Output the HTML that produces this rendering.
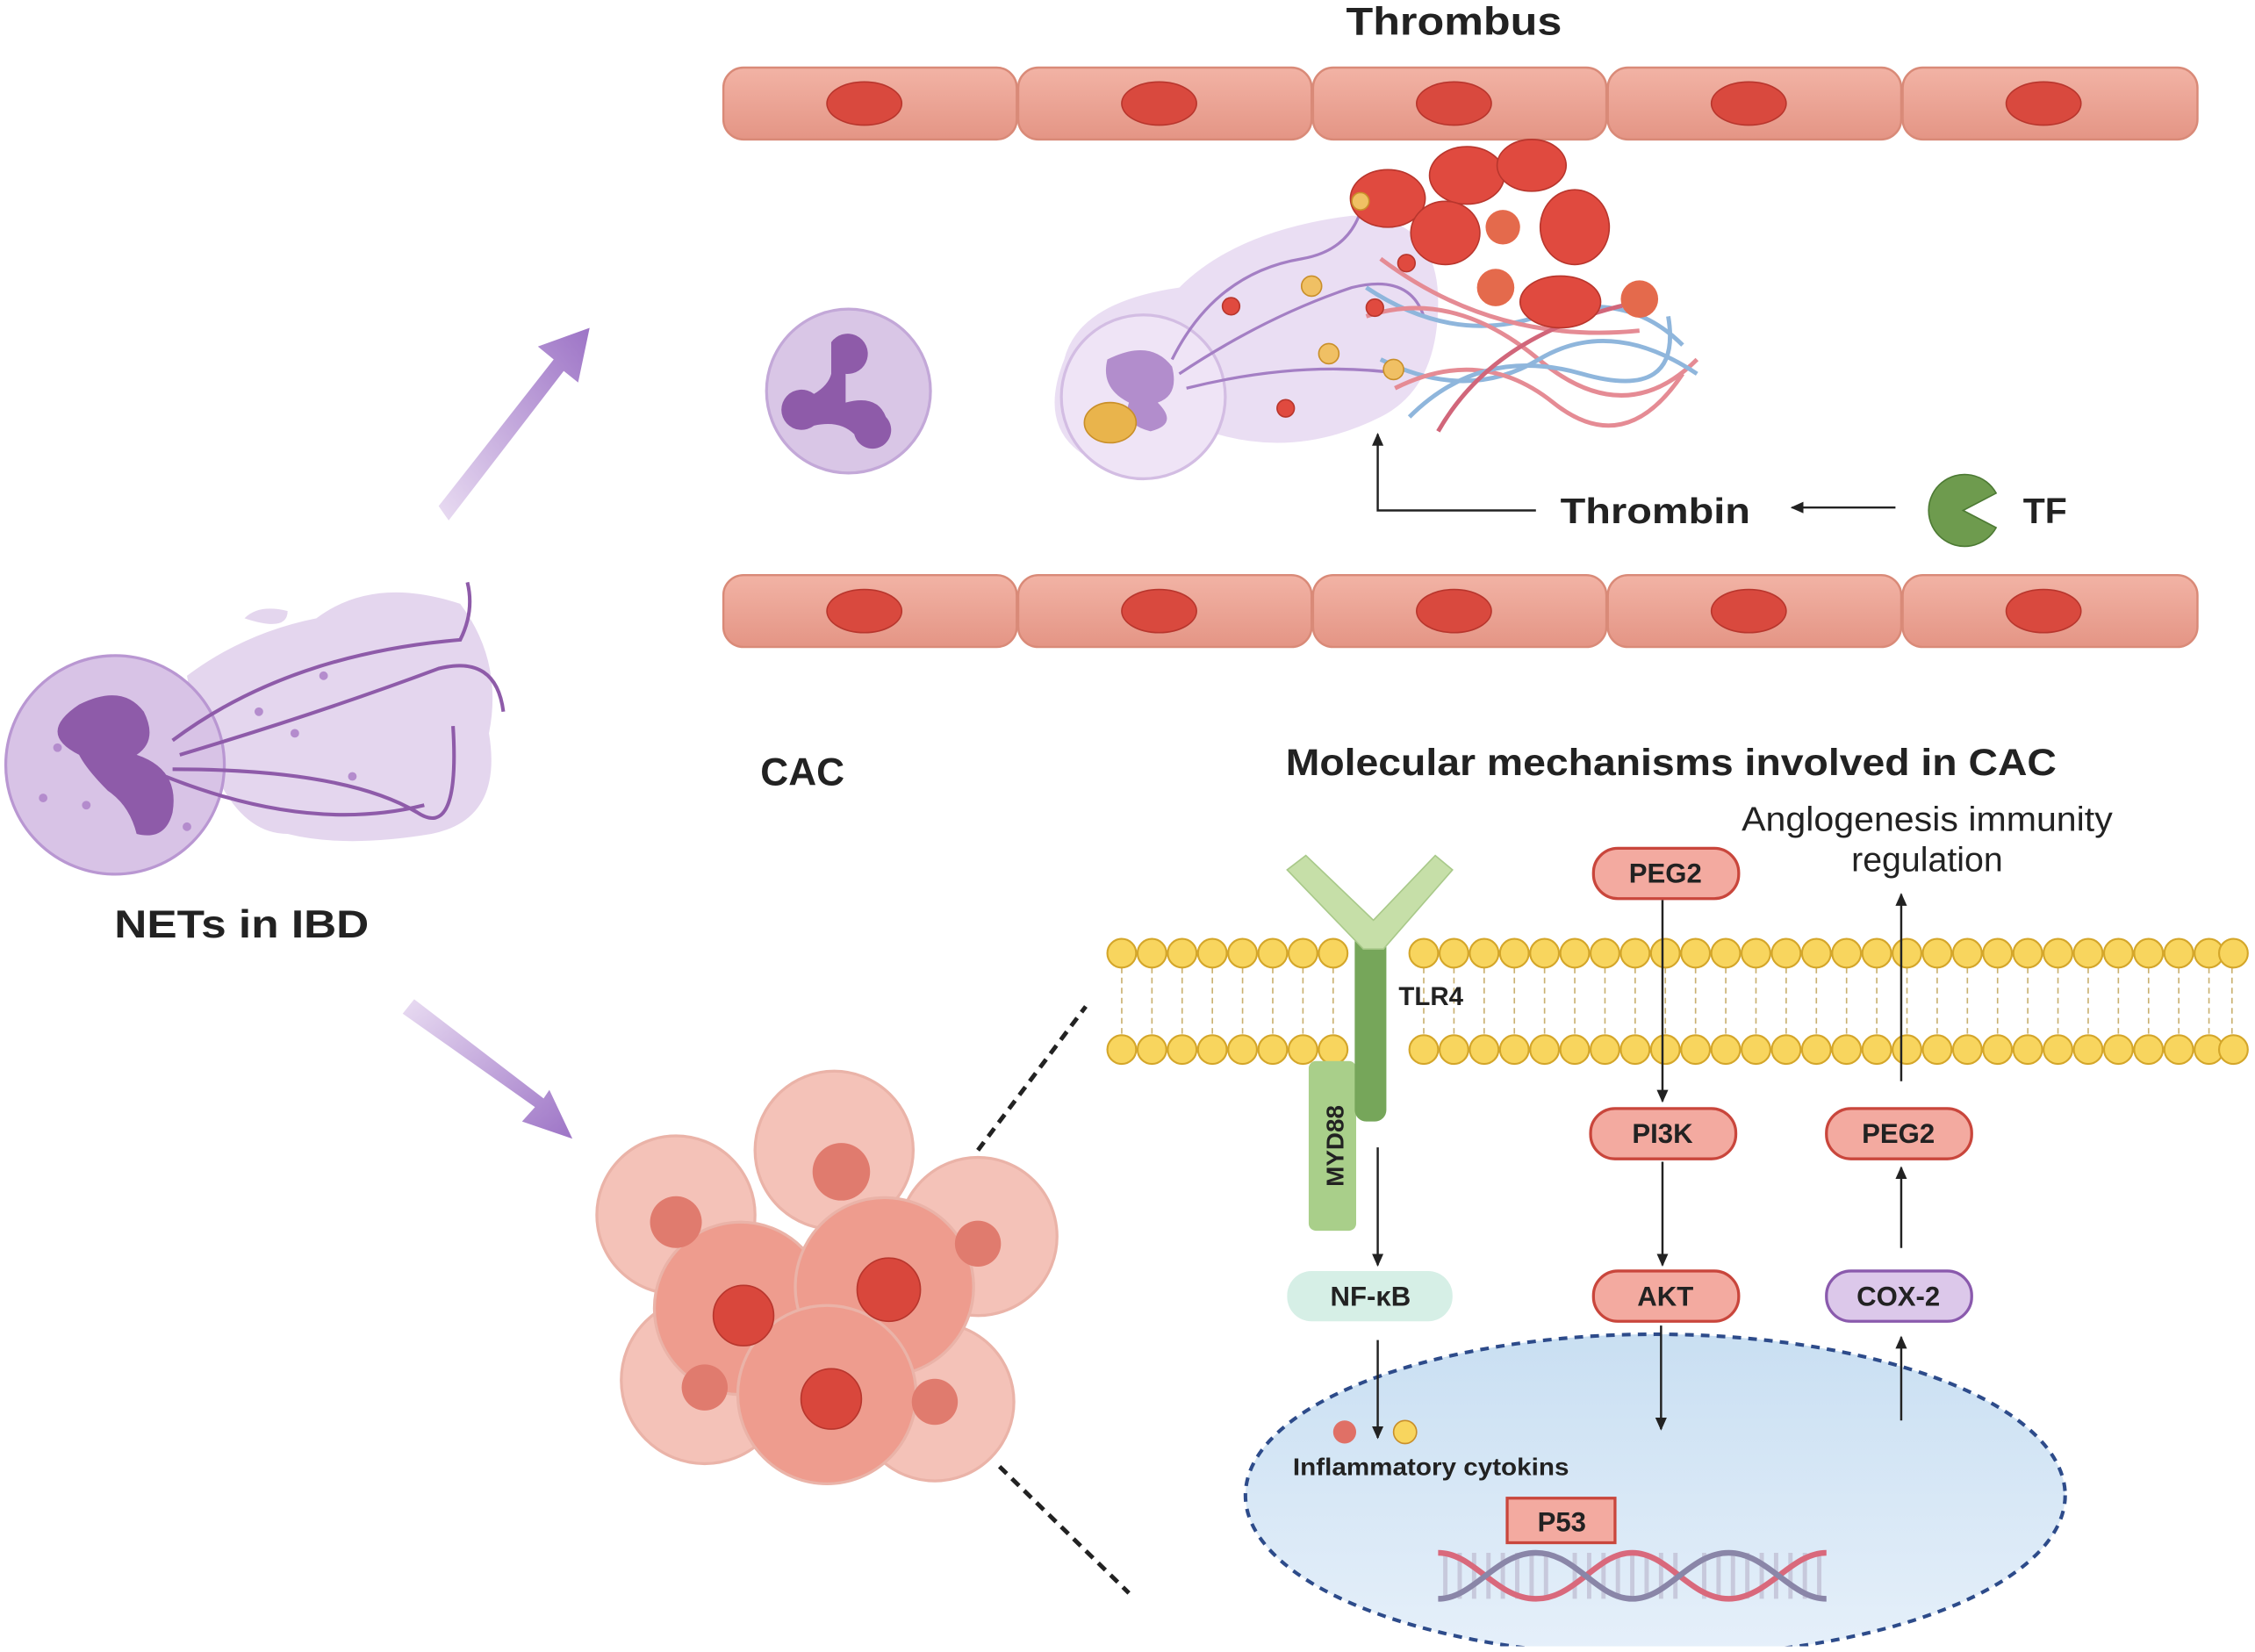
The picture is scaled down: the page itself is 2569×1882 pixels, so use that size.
<!DOCTYPE html>
<html><head><meta charset="utf-8"><style>
html,body{margin:0;padding:0;background:#fff}
svg{display:block}
text{font-family:"Liberation Sans",sans-serif}
</style></head><body>
<svg width="2569" height="1882" viewBox="0 0 1568 1149" preserveAspectRatio="none" xmlns="http://www.w3.org/2000/svg">
<defs>
<linearGradient id="cell" x1="0" y1="0" x2="0" y2="1"><stop offset="0" stop-color="#f2b3a5"/><stop offset="1" stop-color="#e49585"/></linearGradient>
<linearGradient id="arr1" x1="0" y1="1" x2="1" y2="0"><stop offset="0" stop-color="#e9dcf2"/><stop offset="1" stop-color="#9d74c6"/></linearGradient>
<linearGradient id="arr2" x1="0" y1="0" x2="1" y2="1"><stop offset="0" stop-color="#e9dcf2"/><stop offset="1" stop-color="#9d74c6"/></linearGradient>
<linearGradient id="nuc" x1="0" y1="0" x2="0" y2="1"><stop offset="0" stop-color="#c9dff2"/><stop offset="1" stop-color="#e6f0fa"/></linearGradient>
<marker id="ah" markerWidth="10" markerHeight="10" refX="8" refY="5" orient="auto" markerUnits="userSpaceOnUse"><path d="M0,1 L9,5 L0,9 Z" fill="#222"/></marker>
<clipPath id="clipB"><rect x="0" y="0" width="1568" height="1145"/></clipPath>
</defs>

<text x="1011" y="24" font-size="27" font-weight="bold" text-anchor="middle" fill="#222" textLength="150" lengthAdjust="spacingAndGlyphs">Thrombus</text>

<g stroke="#d98a78" stroke-width="1.5">
<rect x="503" y="47" width="204" height="50" rx="14" fill="url(#cell)"/>
<rect x="708" y="47" width="204" height="50" rx="14" fill="url(#cell)"/>
<rect x="913" y="47" width="204" height="50" rx="14" fill="url(#cell)"/>
<rect x="1118" y="47" width="204" height="50" rx="14" fill="url(#cell)"/>
<rect x="1323" y="47" width="205" height="50" rx="14" fill="url(#cell)"/>
<rect x="503" y="400" width="204" height="50" rx="14" fill="url(#cell)"/>
<rect x="708" y="400" width="204" height="50" rx="14" fill="url(#cell)"/>
<rect x="913" y="400" width="204" height="50" rx="14" fill="url(#cell)"/>
<rect x="1118" y="400" width="204" height="50" rx="14" fill="url(#cell)"/>
<rect x="1323" y="400" width="205" height="50" rx="14" fill="url(#cell)"/>
</g>
<g fill="#d9493e" stroke="#b8362d">
<ellipse cx="601" cy="72" rx="26" ry="15"/><ellipse cx="806" cy="72" rx="26" ry="15"/><ellipse cx="1011" cy="72" rx="26" ry="15"/><ellipse cx="1216" cy="72" rx="26" ry="15"/><ellipse cx="1421" cy="72" rx="26" ry="15"/>
<ellipse cx="601" cy="425" rx="26" ry="15"/><ellipse cx="806" cy="425" rx="26" ry="15"/><ellipse cx="1011" cy="425" rx="26" ry="15"/><ellipse cx="1216" cy="425" rx="26" ry="15"/><ellipse cx="1421" cy="425" rx="26" ry="15"/>
</g>

<circle cx="590" cy="272" r="57" fill="#d9c6e6" stroke="#c3a8d8" stroke-width="2"/>
<path d="M578,238 a14,14 0 1 1 10,22 l0,20 q22,-6 28,10 a13,13 0 1 1 -22,12 q-10,-10 -28,-6 a14,14 0 1 1 0,-22 q10,-6 12,-14 z" fill="#8e5ba9"/>

<path d="M740,250 q10,-40 80,-50 q40,-40 120,-50 q60,0 60,60 q0,60 -40,80 q-60,30 -120,10 q-40,40 -80,20 q-40,-20 -20,-70z" fill="#e8daf2" opacity="0.9"/>
<circle cx="795" cy="276" r="57" fill="#efe4f6" stroke="#d3bde3" stroke-width="2"/>
<path d="M770,250 q30,-15 45,5 q5,20 -10,25 q15,15 -5,20 q-20,-5 -15,-20 q-20,-10 -15,-30z" fill="#b28dcc"/>
<ellipse cx="772" cy="294" rx="18" ry="14" fill="#e9b44c" stroke="#c98f2a"/>
<g fill="none" stroke="#a47fc4" stroke-width="2">
<path d="M820,260 q60,-40 120,-60 q40,-10 50,20"/><path d="M825,270 q80,-20 150,-10"/><path d="M815,250 q30,-60 90,-70 q30,-5 40,-30"/>
</g>
<g stroke-width="3" fill="none">
<path d="M950,200 q60,40 120,20 t100,20" stroke="#8fb6dc"/><path d="M950,220 q60,-20 120,30 t110,0" stroke="#e58b94"/>
<path d="M960,250 q60,30 110,0 t110,10" stroke="#8fb6dc"/><path d="M970,270 q60,-30 110,10 t90,-20" stroke="#e58b94"/>
<path d="M980,290 q50,-50 120,-30 t60,-40" stroke="#8fb6dc"/><path d="M960,180 q80,60 180,50" stroke="#e58b94"/>
<path d="M1000,300 q40,-70 140,-90" stroke="#d1667a"/>
</g>
<g fill="#e04a3f" stroke="#b8362d">
<ellipse cx="965" cy="138" rx="26" ry="20"/><ellipse cx="1020" cy="122" rx="26" ry="20"/><ellipse cx="1065" cy="115" rx="24" ry="18"/><ellipse cx="1005" cy="162" rx="24" ry="22"/><ellipse cx="1095" cy="158" rx="24" ry="26"/><ellipse cx="1085" cy="210" rx="28" ry="18"/>
</g>
<g fill="#e46a4c"><circle cx="1045" cy="158" r="12"/><circle cx="1040" cy="200" r="13"/><circle cx="1140" cy="208" r="13"/></g>
<g stroke="#b8362d"><circle cx="856" cy="213" r="6" fill="#e04a3f"/><circle cx="956" cy="214" r="6" fill="#e04a3f"/><circle cx="978" cy="183" r="6" fill="#e04a3f"/><circle cx="894" cy="284" r="6" fill="#e04a3f"/></g>
<g stroke="#c98f2a" fill="#f0c064"><circle cx="912" cy="199" r="7"/><circle cx="924" cy="246" r="7"/><circle cx="969" cy="257" r="7"/><circle cx="946" cy="140" r="6"/></g>

<path d="M1068,355 H958 V302" fill="none" stroke="#222" stroke-width="1.5" marker-end="url(#ah)"/>
<text x="1151" y="364" font-size="25" font-weight="bold" text-anchor="middle" fill="#222" textLength="132" lengthAdjust="spacingAndGlyphs">Thrombin</text>
<path d="M1318,353 H1246" stroke="#222" stroke-width="1.5" marker-end="url(#ah)"/>
<path d="M1388,343 A25,25 0 1 0 1388,367 L1365,355 Z" fill="#6e9b4e" stroke="#4d7a34"/>
<text x="1422" y="364" font-size="25" font-weight="bold" text-anchor="middle" fill="#222">TF</text>

<path d="M130,470 q40,-30 90,-40 q40,-30 100,-10 q30,40 20,90 q10,60 -40,70 q-60,10 -100,0 q-50,0 -70,-110z" fill="#e4d6ee"/>
<path d="M170,430 q10,-10 30,-5 q0,15 -30,5z" fill="#e4d6ee"/>
<circle cx="80" cy="532" r="76" fill="#d8c3e6" stroke="#b997d2" stroke-width="2"/>
<path d="M55,490 q30,-15 45,5 q10,20 -5,30 q30,10 25,40 q-5,20 -25,15 q-5,-20 -20,-30 q-15,-15 -20,-25 q-30,-15 0,-35z" fill="#8e5ba9"/>
<g fill="none" stroke="#8e5ba9" stroke-width="2.5">
<path d="M120,515 q80,-60 200,-70 q10,-20 5,-40"/><path d="M125,525 q100,-30 180,-60 q40,-10 45,30"/><path d="M120,535 q120,0 170,30 q30,20 25,-60"/><path d="M115,540 q100,40 180,20"/>
</g>
<g fill="#b48ccd"><circle cx="40" cy="520" r="3"/><circle cx="60" cy="560" r="3"/><circle cx="130" cy="575" r="3"/><circle cx="30" cy="555" r="3"/><circle cx="205" cy="510" r="3"/><circle cx="225" cy="470" r="3"/><circle cx="180" cy="495" r="3"/><circle cx="245" cy="540" r="3"/></g>
<text x="168" y="652" font-size="27" font-weight="bold" text-anchor="middle" fill="#222" textLength="177" lengthAdjust="spacingAndGlyphs">NETs in IBD</text>

<path d="M305,352 L385,250 L374,241 L410,228 L402,266 L392,258 L312,362 Z" fill="url(#arr1)"/>
<path d="M280,705 L372,770 L363,780 L398,792 L382,758 L378,764 L288,695 Z" fill="url(#arr2)"/>

<text x="558" y="546" font-size="27" font-weight="bold" text-anchor="middle" fill="#222">CAC</text>
<text x="1162" y="539" font-size="26" font-weight="bold" text-anchor="middle" fill="#222" textLength="536" lengthAdjust="spacingAndGlyphs">Molecular mechanisms involved in CAC</text>

<g stroke="#eab3a8" stroke-width="2">
<circle cx="470" cy="845" r="55" fill="#f4c2b8"/><circle cx="580" cy="800" r="55" fill="#f4c2b8"/><circle cx="680" cy="860" r="55" fill="#f4c2b8"/>
<circle cx="490" cy="960" r="58" fill="#f4c2b8"/><circle cx="650" cy="975" r="55" fill="#f4c2b8"/>
<circle cx="515" cy="910" r="60" fill="#ee9c8e"/><circle cx="615" cy="895" r="62" fill="#ee9c8e"/><circle cx="575" cy="970" r="62" fill="#ee9c8e"/>
</g>
<g fill="#e07b6e"><circle cx="470" cy="850" r="18"/><circle cx="585" cy="815" r="20"/><circle cx="680" cy="865" r="16"/><circle cx="490" cy="965" r="16"/><circle cx="650" cy="975" r="16"/></g>
<g fill="#d9473c" stroke="#b8362d"><circle cx="517" cy="915" r="21"/><circle cx="618" cy="897" r="22"/><circle cx="578" cy="973" r="21"/></g>

<path d="M680,800 L755,700" stroke="#222" stroke-width="3" stroke-dasharray="7,5"/>
<path d="M695,1020 L785,1108" stroke="#222" stroke-width="3" stroke-dasharray="7,5"/>

<g clip-path="url(#clipB)">
<ellipse cx="1151" cy="1040" rx="285" ry="112" fill="url(#nuc)" stroke="#2d4b8a" stroke-width="2.5" stroke-dasharray="6,5"/>
</g>

<g stroke="#c9b070" stroke-width="1">
<path d="M780,673 V720 M801,673 V720 M822,673 V720 M843,673 V720 M864,673 V720 M885,673 V720 M906,673 V720 M927,673 V720 M990,673 V720 M1011,673 V720 M1032,673 V720 M1053,673 V720 M1074,673 V720 M1095,673 V720 M1116,673 V720 M1137,673 V720 M1158,673 V720 M1179,673 V720 M1200,673 V720 M1221,673 V720 M1242,673 V720 M1263,673 V720 M1284,673 V720 M1305,673 V720 M1326,673 V720 M1347,673 V720 M1368,673 V720 M1389,673 V720 M1410,673 V720 M1431,673 V720 M1452,673 V720 M1473,673 V720 M1494,673 V720 M1515,673 V720 M1536,673 V720 M1552,673 V720" stroke-dasharray="4,3"/>
</g>
<g id="lip" fill="#f8d55e" stroke="#d4a62a" stroke-width="1.3">
<circle cx="780" cy="663" r="10"/><circle cx="801" cy="663" r="10"/><circle cx="822" cy="663" r="10"/><circle cx="843" cy="663" r="10"/><circle cx="864" cy="663" r="10"/><circle cx="885" cy="663" r="10"/><circle cx="906" cy="663" r="10"/><circle cx="927" cy="663" r="10"/><circle cx="990" cy="663" r="10"/><circle cx="1011" cy="663" r="10"/><circle cx="1032" cy="663" r="10"/><circle cx="1053" cy="663" r="10"/><circle cx="1074" cy="663" r="10"/><circle cx="1095" cy="663" r="10"/><circle cx="1116" cy="663" r="10"/><circle cx="1137" cy="663" r="10"/><circle cx="1158" cy="663" r="10"/><circle cx="1179" cy="663" r="10"/><circle cx="1200" cy="663" r="10"/><circle cx="1221" cy="663" r="10"/><circle cx="1242" cy="663" r="10"/><circle cx="1263" cy="663" r="10"/><circle cx="1284" cy="663" r="10"/><circle cx="1305" cy="663" r="10"/><circle cx="1326" cy="663" r="10"/><circle cx="1347" cy="663" r="10"/><circle cx="1368" cy="663" r="10"/><circle cx="1389" cy="663" r="10"/><circle cx="1410" cy="663" r="10"/><circle cx="1431" cy="663" r="10"/><circle cx="1452" cy="663" r="10"/><circle cx="1473" cy="663" r="10"/><circle cx="1494" cy="663" r="10"/><circle cx="1515" cy="663" r="10"/><circle cx="1536" cy="663" r="10"/><circle cx="1553" cy="663" r="10"/>
</g>
<use href="#lip" transform="translate(0,67)"/>

<rect x="910" y="738" width="33" height="118" rx="5" fill="#a9cf8a"/>
<text transform="translate(934,797) rotate(-90)" font-size="17" font-weight="bold" text-anchor="middle" fill="#222">MYD88</text>
<rect x="942" y="645" width="22" height="135" rx="8" fill="#76a65a"/>
<path d="M895,605 L908,595 L955,640 L998,595 L1010,605 L962,660 L948,660 Z" fill="#c6dfa8" stroke="#a9c98a"/>
<text x="995" y="699" font-size="18" font-weight="bold" text-anchor="middle" fill="#222">TLR4</text>

<g font-size="19" font-weight="bold" text-anchor="middle" fill="#222">
<rect x="1108" y="590" width="101" height="35" rx="17" fill="#f3aaa0" stroke="#c9463c" stroke-width="2"/><text x="1158" y="614">PEG2</text>
<rect x="1106" y="771" width="101" height="35" rx="17" fill="#f3aaa0" stroke="#c9463c" stroke-width="2"/><text x="1156" y="795">PI3K</text>
<rect x="1108" y="884" width="101" height="35" rx="17" fill="#f3aaa0" stroke="#c9463c" stroke-width="2"/><text x="1158" y="908">AKT</text>
<rect x="1270" y="771" width="101" height="35" rx="17" fill="#f3aaa0" stroke="#c9463c" stroke-width="2"/><text x="1320" y="795">PEG2</text>
<rect x="1270" y="884" width="101" height="35" rx="17" fill="#dcc8ea" stroke="#8a5aad" stroke-width="2"/><text x="1320" y="908">COX-2</text>
<rect x="895" y="884" width="115" height="35" rx="17" fill="#d6efe6"/><text x="953" y="908">NF-κB</text>
<rect x="1048" y="1042" width="75" height="31" fill="#f3aaa0" stroke="#c9463c" stroke-width="2"/><text x="1086" y="1065">P53</text>
</g>

<g stroke="#222" stroke-width="1.5" fill="none" marker-end="url(#ah)">
<path d="M1156,626 V766"/><path d="M1156,808 V880"/><path d="M1155,922 V994"/>
<path d="M1322,988 V930"/><path d="M1322,868 V812"/><path d="M1322,752 V622"/>
<path d="M958,798 V880"/><path d="M958,932 V1000"/>
</g>
<text x="1340" y="578" font-size="24" text-anchor="middle" fill="#222" textLength="258" lengthAdjust="spacingAndGlyphs">Anglogenesis immunity</text>
<text x="1340" y="606" font-size="24" text-anchor="middle" fill="#222">regulation</text>

<circle cx="935" cy="996" r="8" fill="#e07066"/><circle cx="977" cy="996" r="8" fill="#f8d55e" stroke="#c98f2a"/>
<text x="995" y="1026" font-size="17" font-weight="bold" text-anchor="middle" fill="#222" textLength="192" lengthAdjust="spacingAndGlyphs">Inflammatory cytokins</text>

<g stroke-width="4" fill="none">
<g stroke="#c7c9dc" stroke-width="3">
<path d="M1005,1080 V1112 M1015,1080 V1112 M1025,1080 V1112 M1035,1080 V1112 M1045,1080 V1112 M1055,1080 V1112 M1065,1080 V1112 M1075,1080 V1112 M1095,1080 V1112 M1105,1080 V1112 M1115,1080 V1112 M1125,1080 V1112 M1135,1080 V1112 M1145,1080 V1112 M1155,1080 V1112 M1165,1080 V1112 M1185,1080 V1112 M1195,1080 V1112 M1205,1080 V1112 M1215,1080 V1112 M1225,1080 V1112 M1235,1080 V1112 M1245,1080 V1112 M1255,1080 V1112 M1265,1080 V1112"/>
</g>
<path d="M1000,1080 C1025,1080 1040,1112 1068,1112 S1110,1080 1135,1080 S1175,1112 1202,1112 S1245,1080 1270,1080" stroke="#d9697c"/>
<path d="M1000,1112 C1025,1112 1040,1080 1068,1080 S1110,1112 1135,1112 S1175,1080 1202,1080 S1245,1112 1270,1112" stroke="#8a86a8"/>
</g>
</svg>
</body></html>
